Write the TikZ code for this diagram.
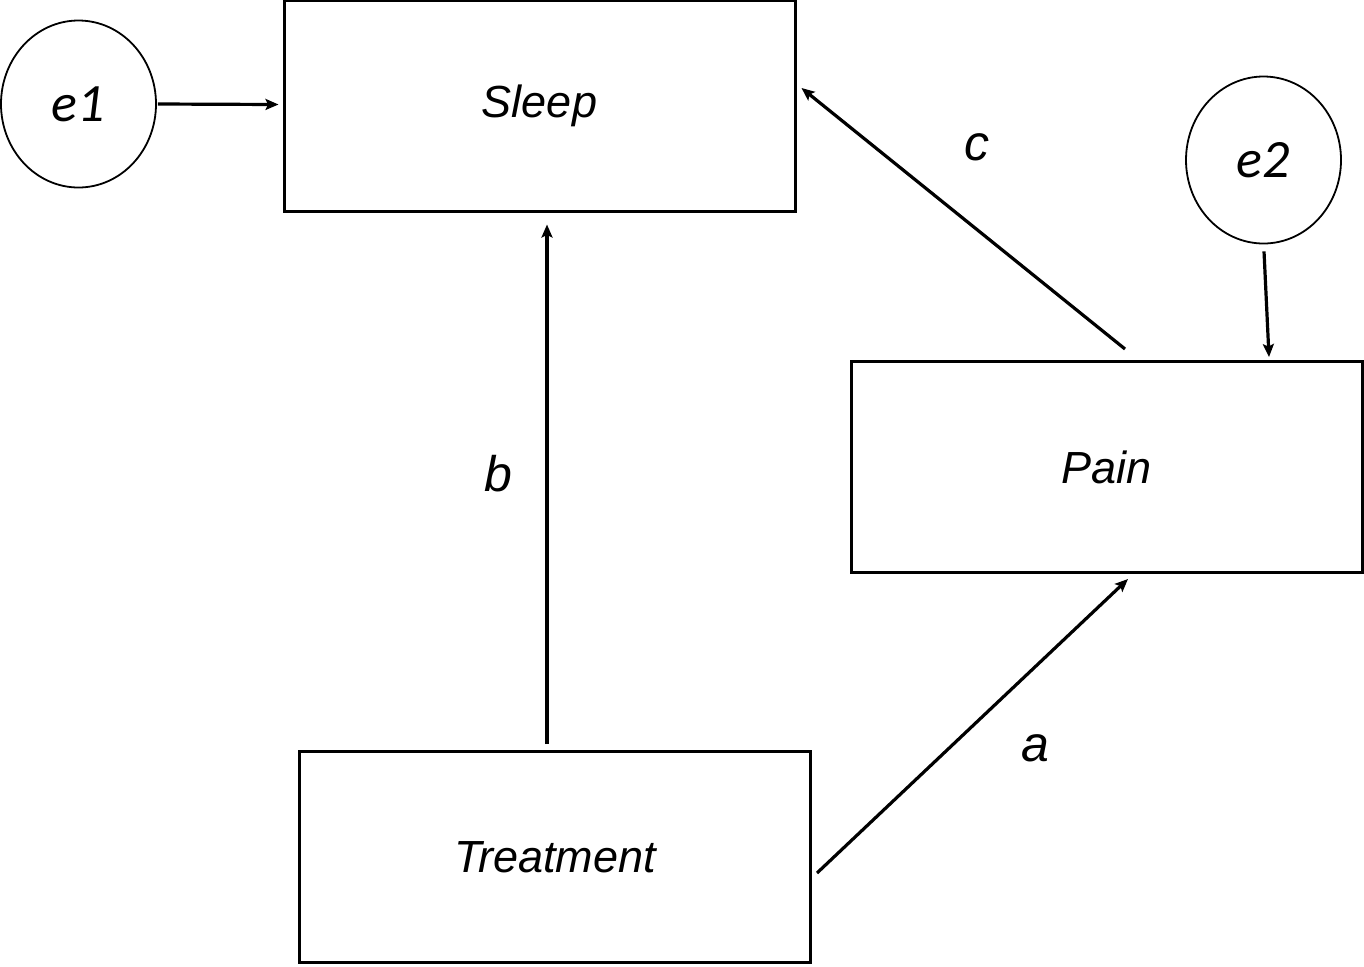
\documentclass[tikz,border=0pt]{standalone}
\usepackage{fontspec}
\setmainfont{Liberation Sans}
\newfontfamily\errfont{Carlito}
\usetikzlibrary{positioning,calc,arrows.meta,shapes.geometric}

\begin{document}
\begin{tikzpicture}[
	x=0.5pt, y=-0.5pt,
	var/.style={draw, line width=1.5pt, minimum width=255.5pt, minimum height=105.5pt,
		inner sep=0pt, font=\fontsize{22.5}{27}\selectfont\itshape},
	err/.style={draw, ellipse, line width=0.9pt, minimum width=77.5pt,
		minimum height=83.5pt, inner sep=0pt, font=\errfont\fontsize{27}{32}\selectfont\itshape},
	link/.style={line width=1.6pt, -{Stealth[length=6.5pt, width=5.5pt, inset=1.3pt]}},
	coef/.style={font=\fontsize{25}{30}\selectfont\itshape}
	]
	\useasboundingbox (0,0) rectangle (1364,966);
	% variables
	\node[var] (sleep) at (539.5,105.5) {Sleep};
	\node[var] (pain) at (1106.5,467) {Pain};
	\node[var] (treat) at (555,857) {Treatment};
	% error terms
	\node[err] (e1) at (78.5,104) {e1};
	\node[err] (e2) at (1263.5,160) {e2};
	% paths
	\draw[link] ($(e1.east)+(1,0)$) -- ($(sleep.west)+(-4,-1)$);
	\draw[link] ($(e2.south)+(0.5,7)$) -- ($(pain.north)+(162.5,-3)$);
	\draw[link] ($(treat.north)+(-8,-6)$) -- ($(sleep.south)+(7.5,12)$);
	\draw[link] ($(treat.east)+(5,16)$) -- ($(pain.south)+(21.5,5)$);
	\draw[link] ($(pain.north)+(18.5,-11)$) -- ($(sleep.east)+(5,-17.5)$);
	% coefficients
	\node[coef] (a) at (1035,748) {a};
	\node[coef] (b) at (498,474) {b};
	\node[coef] (c) at (977,147) {c};
\end{tikzpicture}
\end{document}
